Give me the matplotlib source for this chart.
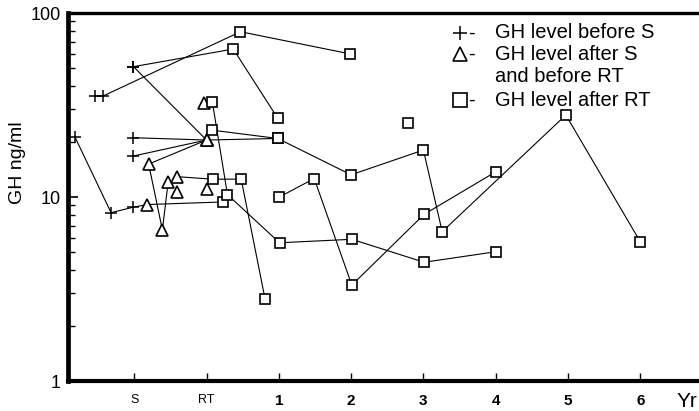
import matplotlib.pyplot as plt
from matplotlib.ticker import FixedLocator, NullFormatter

plt.rcParams["font.family"] = ["Liberation Sans", "DejaVu Sans"]

W, H = 699, 411

# x scale: S = -1, RT = 0, then years after RT (1..6)
# each patient: (x, GH ng/ml, phase); phase "pre" = before S, "mid" = after S / before RT, "post" = after RT
PATIENT_A = [(-1.82, 21.2, "pre"), (-1.32, 8.22, "pre"), (-1.02, 8.79, "pre"), (-0.82, 9.1, "mid"), (0.235, 9.4, "post")]
PATIENT_B = [(-0.04, 32.3, "mid"), (0.08, 33.0, "post"), (0.29, 10.3, "post"), (1.01, 5.64, "post"),
             (2.01, 5.89, "post"), (3.01, 4.42, "post"), (4.0, 5.04, "post")]
PATIENT_C = [(-1.54, 35.4, "pre"), (-1.43, 35.4, "pre"), (0.47, 79.1, "post"), (1.99, 59.9, "post")]
PATIENT_D = [(-1.01, 51.1, "pre"), (0.37, 63.7, "post"), (0.985, 26.8, "post")]
PATIENT_E = [(-1.01, 51.1, "pre"), (0.0, 20.4, "mid"), (0.985, 20.8, "post"), (2.0, 13.2, "post"),
             (3.0, 18.0, "post"), (3.26, 6.48, "post"), (4.97, 27.9, "post"), (6.0, 5.71, "post")]
PATIENT_F = [(-1.01, 21.0, "pre"), (0.0, 20.4, "mid")]
PATIENT_G = [(-1.01, 16.7, "pre"), (0.0, 20.4, "mid")]
PATIENT_H = [(0.0, 20.4, "mid"), (-0.80, 15.1, "mid"), (-0.61, 6.62, "mid"), (-0.53, 12.1, "mid")]
PATIENT_I = [(-0.41, 12.9, "mid"), (0.086, 12.5, "post"), (0.48, 12.5, "post"), (0.81, 2.79, "post")]
PATIENT_J = [(0.07, 23.1, "post"), (0.985, 20.8, "post")]
PATIENT_K = [(1.0, 9.96, "post"), (1.49, 12.6, "post"), (2.01, 3.32, "post"), (3.01, 8.05, "post"), (4.0, 13.7, "post")]
SINGLE_POINTS = [(-0.41, 10.6, "mid"), (0.0, 11.1, "mid"), (2.79, 25.3, "post")]

PATIENTS = [PATIENT_A, PATIENT_B, PATIENT_C, PATIENT_D, PATIENT_E, PATIENT_F,
            PATIENT_G, PATIENT_H, PATIENT_I, PATIENT_J, PATIENT_K]

X_TICKS = [-1, 0, 1, 2, 3, 4, 5, 6]
X_TICK_LABELS = ["S", "RT", "1", "2", "3", "4", "5", "6"]
Y_TICKS = [1, 10, 100]
Y_TICK_LABELS = ["1", "10", "100"]
LEGEND_SYMBOLS = ["pre", "mid", None, "post"]
LEGEND_TEXTS = ["GH level before S", "GH level after S", "and before RT", "GH level after RT"]

MARKER_STYLE = {
    "pre": dict(marker="+", markersize=9, markeredgewidth=1.1),
    "mid": dict(marker="^", markersize=8.5, markeredgewidth=1.2, markerfacecolor="white"),
    "post": dict(marker="s", markersize=7, markeredgewidth=1.2, markerfacecolor="white"),
}


def draw_points(ax, points):
    for x, y, phase in points:
        ax.plot([x], [y], linestyle="none", color="black", zorder=3, clip_on=False, **MARKER_STYLE[phase])


fig = plt.figure(figsize=(W / 100, H / 100), dpi=100)
ax = fig.add_axes([68 / W, 1 - 381 / H, 1 - 68 / W, (381 - 13) / H])

for patient in PATIENTS:
    ax.plot([p[0] for p in patient], [p[1] for p in patient], color="black", linewidth=0.8, zorder=2)
    draw_points(ax, patient)
draw_points(ax, SINGLE_POINTS)

ax.set_yscale("log")
ax.set_ylim(1, 100)
ax.set_xlim((68 - 206.5) / 72.3, (699 - 206.5) / 72.3)

ax.yaxis.set_major_locator(FixedLocator(Y_TICKS))
ax.set_yticklabels(Y_TICK_LABELS, fontsize=13)
ax.yaxis.set_minor_locator(FixedLocator([v * d for d in (1, 10) for v in range(2, 10)]))
ax.yaxis.set_minor_formatter(NullFormatter())
ax.tick_params(axis="y", which="major", direction="in", length=7, width=1.2, pad=5)
ax.tick_params(axis="y", which="minor", direction="in", length=5, width=1.0)

ax.set_xticks(X_TICKS)
ax.set_xticklabels(X_TICK_LABELS)
ax.tick_params(axis="x", direction="in", length=6, width=1.0, pad=9)
for lab in ax.get_xticklabels():
    if lab.get_text() in ("S", "RT"):
        lab.set_fontsize(9)
    else:
        lab.set_fontsize(11)
        lab.set_fontweight("bold")

ax.spines["right"].set_visible(False)
ax.spines["left"].set_linewidth(3.4)
ax.spines["bottom"].set_linewidth(3.0)
ax.spines["top"].set_linewidth(2.4)

fig.text(17 / W, 1 - 163 / H, "GH ng/ml", rotation=90, ha="center", va="center", fontsize=14)
fig.text(677 / W, 1 - 401 / H, "Yr", ha="left", va="center", fontsize=15)

# legend block, drawn as text lines
line_y = [33, 54, 77, 100]
for sym, text, py in zip(LEGEND_SYMBOLS, LEGEND_TEXTS, line_y):
    fy = 1 - py / H
    if sym is not None:
        style = dict(MARKER_STYLE[sym])
        style["markersize"] = 10
        ax.plot([460 / W], [fy], linestyle="none", color="black", transform=fig.transFigure,
                clip_on=False, zorder=4, **style)
        fig.text(468 / W, fy, "-", ha="left", va="center", fontsize=14.5)
    fig.text(495 / W, fy, text, ha="left", va="center", fontsize=14.5)

fig.savefig("out.png", dpi=100)
